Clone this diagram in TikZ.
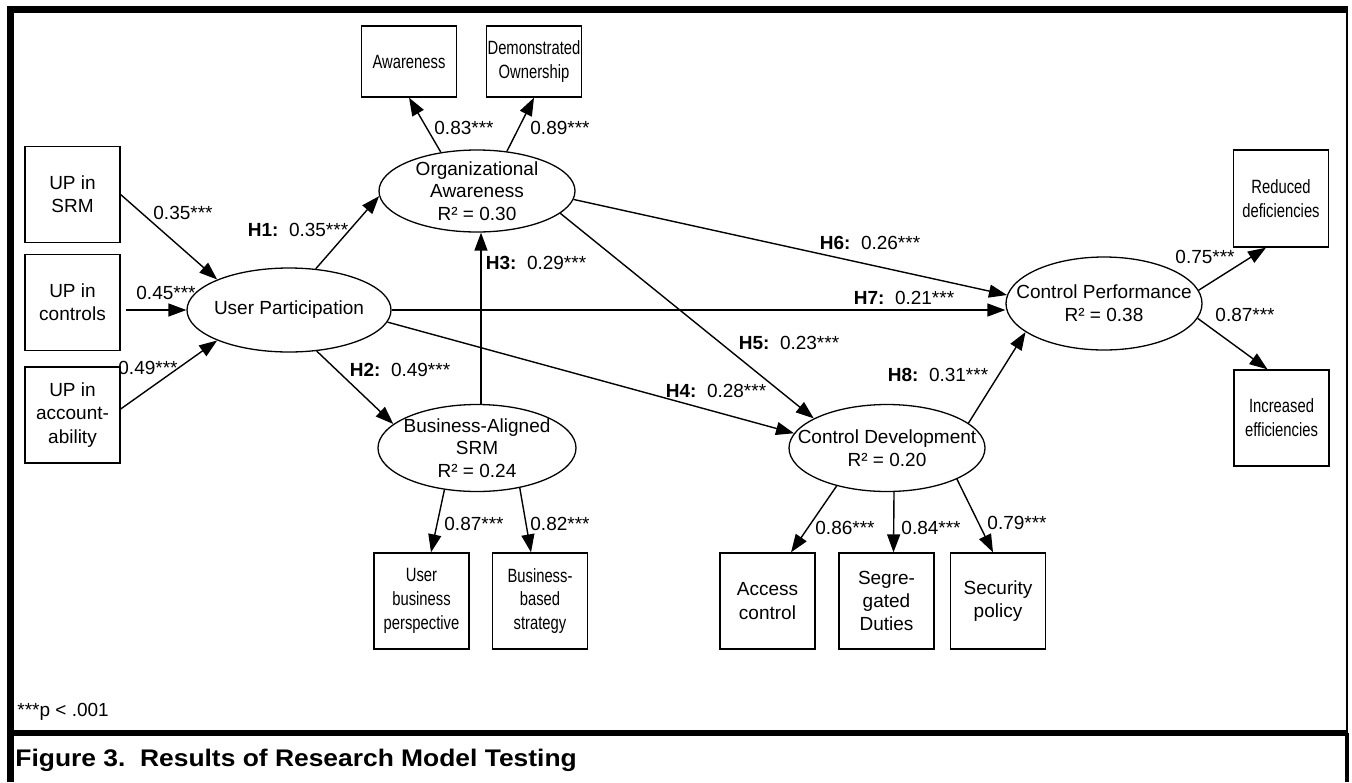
\documentclass[tikz,border=0pt]{standalone}
\usepackage{fontspec}
\setmainfont{Liberation Sans}
\newfontfamily\narf[FakeStretch=0.77]{Liberation Sans}
\newfontfamily\capf[FakeStretch=1.1]{Liberation Sans}
\usetikzlibrary{shapes.geometric,arrows.meta}
\begin{document}
\begin{tikzpicture}[x=0.5pt,y=-0.5pt,
  box/.style={draw,line width=0.65pt,inner sep=0pt,align=center,minimum width=47.5pt,minimum height=48pt,font=\fontsize{9.5}{11.6}\selectfont},
  nbox/.style={box,font=\narf\fontsize{9.6}{11.9}\selectfont},
  lat/.style={draw,ellipse,line width=0.65pt,inner sep=0pt},
  lab/.style={inner sep=0pt,align=center,font=\fontsize{9.5}{11.3}\selectfont},
  arr/.style={line width=0.7pt,-{Triangle[length=9pt,width=6.5pt]}},
]
\useasboundingbox (0,0) rectangle (1352,782);
\fill[white] (0,0) rectangle (1352,782);
% frame
\draw[line width=3.5pt,line join=miter] (10,782) -- (10,9.7) -- (1348,9.7);
\draw[line width=1.4pt] (1347,9.7) -- (1347,733);
\draw[line width=2pt] (1347,733) -- (1347,782);
\draw[line width=2.75pt] (10,733) -- (1348,733);

% indicator boxes
\node[box] (srm) at (72.5,194.5) {UP in\\SRM};
\node[box] (ctrl) at (72.5,302.5) {UP in\\controls};
\node[box] (acc) at (72.5,415) {UP in\\account-\\ability};
\node[nbox,minimum height=35.5pt] (aw) at (409,61.5) {Awareness};
\node[nbox,minimum height=35.5pt] (dow) at (534,61.5) {Demonstrated\\Ownership};
\node[nbox] (ubp) at (421.5,601) {User\\business\\perspective};
\node[nbox] (bbs) at (540,601) {Business-\\based\\strategy};
\node[box] (ac) at (767.5,601) {Access\\control};
\node[box] (sd) at (886.5,601) {Segre-\\gated\\Duties};
\node[box] (sp) at (998,601) {Security\\policy};
\node[nbox,minimum height=48.5pt] (rd) at (1281,198.5) {Reduced\\deficiencies};
\node[nbox] (ie) at (1281.5,418) {Increased\\efficiencies};

% latent constructs
\node[lat,minimum width=102pt,minimum height=42pt,label={[lab]center:{User Participation}}] (up) at (289,310) {};
\node[lat,minimum width=98pt,minimum height=41pt,label={[lab]center:{Organizational\\Awareness\\R² = 0.30}}] (oa) at (477,191) {};
\node[lat,minimum width=99pt,minimum height=43.5pt,label={[lab]center:{Business-Aligned\\SRM\\R² = 0.24}}] (ba) at (477,448) {};
\node[lat,minimum width=98pt,minimum height=43.5pt,label={[lab]center:{Control Development\\R² = 0.20}}] (cd) at (887,448) {};
\node[lat,minimum width=98pt,minimum height=46.5pt,label={[lab]center:{Control Performance\\R² = 0.38}}] (cp) at (1104,303.5) {};

% connectors
\draw[arr] (srm.east) -- (up.157);
\draw[arr,shorten <=2.5pt] (ctrl.east |- up.west) -- (up.west);
\draw[arr] ([yshift=3pt]acc.east) -- (up.203);
\draw[arr] (up.57) -- (oa.183);
\draw[arr] (up.304) -- (ba.164);
\draw[arr] ([xshift=2pt]ba.north) -- ([xshift=2pt]oa.south);
\draw[arr] (oa.133) -- (aw.south);
\draw[arr] (oa.53) -- (dow.south);
\draw[arr] (oa.355) -- (cp.175);
\draw[arr] (oa.345) -- (cd.158);
\draw[arr] (up.east) -- (cp.west |- up.east);
\draw[arr] (up.353) -- (cd.171);
\draw[arr] (cd.17) -- (cp.200);
\draw[arr] (cp.8) -- ([xshift=-7.5pt]rd.south);
\draw[arr] (cp.351) -- ([xshift=-7pt]ie.north);
\draw[arr] (ba.232) -- ([xshift=4.75pt]ubp.north);
\draw[arr] (ba.317) -- ([xshift=-4.5pt]bbs.north);
\draw[arr] (cd.217) -- ([xshift=11.75pt]ac.north);
\draw[arr] ([xshift=3.5pt]cd.south) -- ([xshift=3.5pt]sd.north);
\draw[arr] (cd.336) -- ([xshift=-2.5pt]sp.north);

% path labels
\node[lab] (l1) at (183,213) {0.35***};
\node[lab] (l2) at (166,293) {0.45***};
\node[lab] (l3) at (148,368) {0.49***};
\node[lab] (h1) at (298,230) {\textbf{H1:}\ \ 0.35***};
\node[lab] (l4) at (464,128) {0.83***};
\node[lab] (l5) at (560,128) {0.89***};
\node[lab] (h3) at (536,263) {\textbf{H3:}\ \ 0.29***};
\node[lab] (h2) at (400,370) {\textbf{H2:}\ \ 0.49***};
\node[lab] (h6) at (870,243) {\textbf{H6:}\ \ 0.26***};
\node[lab] (h7) at (904,298) {\textbf{H7:}\ \ 0.21***};
\node[lab] (h5) at (789,343) {\textbf{H5:}\ \ 0.23***};
\node[lab] (h8) at (938,375) {\textbf{H8:}\ \ 0.31***};
\node[lab] (h4) at (716,391) {\textbf{H4:}\ \ 0.28***};
\node[lab] (l6) at (1205,257) {0.75***};
\node[lab] (l7) at (1245,315) {0.87***};
\node[lab] (l8) at (474,524) {0.87***};
\node[lab] (l9) at (560,524) {0.82***};
\node[lab] (l10) at (845,528) {0.86***};
\node[lab] (l11) at (931,528) {0.84***};
\node[lab] (l12) at (1017,523) {0.79***};
\node[lab,anchor=base west] (note) at (17,716) {***p < .001};
\node[anchor=base west,inner sep=0pt,font=\capf\bfseries\fontsize{12}{14}\selectfont] (cap) at (15,766) {Figure 3.\ \ Results of Research Model Testing};
\end{tikzpicture}
\end{document}
